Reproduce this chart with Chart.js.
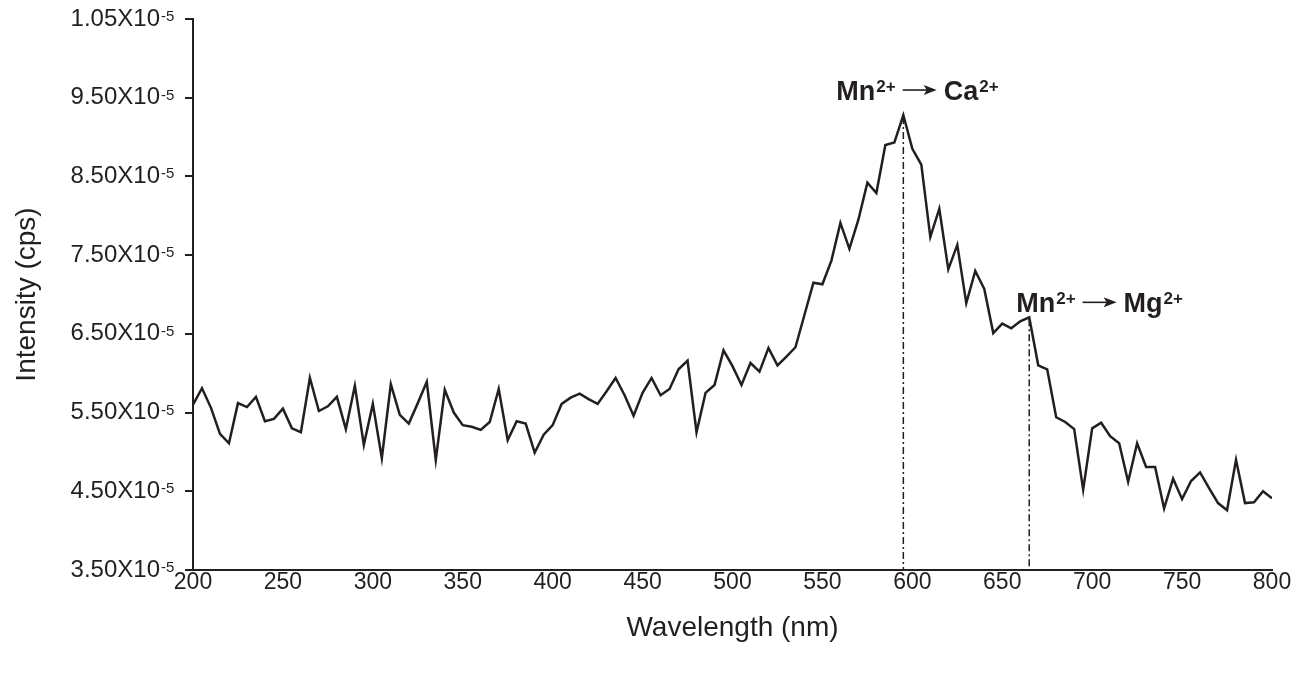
<!DOCTYPE html>
<html>
<head>
<meta charset="utf-8">
<script src="https://cdn.jsdelivr.net/npm/chart.js@4.4.1/dist/chart.umd.min.js"></script>
<style>
  body { margin: 0; background: #fff; }
</style>
</head>
<body>
<canvas id="spectrum" width="1308" height="677"></canvas>
<script>
// Emission spectrum, values

const wavelengths = [
  200, 205, 210, 215, 220, 225, 230, 235, 240, 245,
  250, 255, 260, 265, 270, 275, 280, 285, 290, 295,
  300, 305, 310, 315, 320, 325, 330, 335, 340, 345,
  350, 355, 360, 365, 370, 375, 380, 385, 390, 395,
  400, 405, 410, 415, 420, 425, 430, 435, 440, 445,
  450, 455, 460, 465, 470, 475, 480, 485, 490, 495,
  500, 505, 510, 515, 520, 525, 530, 535, 540, 545,
  550, 555, 560, 565, 570, 575, 580, 585, 590, 595,
  600, 605, 610, 615, 620, 625, 630, 635, 640, 645,
  650, 655, 660, 665, 670, 675, 680, 685, 690, 695,
  700, 705, 710, 715, 720, 725, 730, 735, 740, 745,
  750, 755, 760, 765, 770, 775, 780, 785, 790, 795,
  800
];

// intensity in units of 10^-5 cps
const intensity = [
  5.60, 5.81, 5.56, 5.23, 5.11, 5.62, 5.57, 5.70, 5.39, 5.42,
  5.55, 5.30, 5.25, 5.94, 5.52, 5.58, 5.70, 5.29, 5.84, 5.09,
  5.61, 4.92, 5.86, 5.47, 5.36, 5.62, 5.89, 4.90, 5.79, 5.50,
  5.34, 5.32, 5.28, 5.38, 5.80, 5.15, 5.39, 5.36, 4.99, 5.22,
  5.34, 5.61, 5.69, 5.74, 5.67, 5.61, 5.77, 5.94, 5.72, 5.46,
  5.75, 5.94, 5.72, 5.80, 6.05, 6.16, 5.25, 5.75, 5.85, 6.29,
  6.09, 5.85, 6.13, 6.02, 6.32, 6.10, 6.21, 6.33, 6.74, 7.15,
  7.13, 7.43, 7.91, 7.58, 7.95, 8.42, 8.29, 8.90, 8.93, 9.28,
  8.85, 8.65, 7.73, 8.09, 7.32, 7.63, 6.89, 7.30, 7.07, 6.51,
  6.63, 6.57, 6.66, 6.71, 6.10, 6.05, 5.44, 5.38, 5.29, 4.52,
  5.30, 5.37, 5.20, 5.11, 4.62, 5.11, 4.81, 4.81, 4.28, 4.66,
  4.40, 4.63, 4.74, 4.54, 4.35, 4.26, 4.90, 4.35, 4.36, 4.50,
  4.41
];

// tick text as printed on the figure (top one reads 1.05)
const yTickLabels = ["3.50", "4.50", "5.50", "6.50", "7.50", "8.50", "9.50", "1.05"];

// Mn2+ substitution sites
const peakWavelengths = [595, 665];
const peakTargets = ["Ca", "Mg"];

const FONT = '"Liberation Sans", Arial, Helvetica, sans-serif';
const INK = "#231f20";

function drawIonLabel(ctx, x, y, target) {
  const big = "bold 27px " + FONT;
  const small = "bold 17px " + FONT;
  ctx.save();
  ctx.fillStyle = INK;
  ctx.strokeStyle = INK;
  ctx.textAlign = "left";
  ctx.textBaseline = "alphabetic";

  ctx.font = big;
  ctx.fillText("Mn", x, y);
  x += ctx.measureText("Mn").width + 1;
  ctx.font = small;
  ctx.fillText("2+", x, y - 8);
  x += ctx.measureText("2+").width + 7;

  // arrow
  const ay = y - 10;
  ctx.lineWidth = 1.6;
  ctx.beginPath();
  ctx.moveTo(x, ay);
  ctx.lineTo(x + 26, ay);
  ctx.stroke();
  ctx.beginPath();
  ctx.moveTo(x + 34, ay);
  ctx.lineTo(x + 21, ay - 5);
  ctx.lineTo(x + 24, ay);
  ctx.lineTo(x + 21, ay + 5);
  ctx.closePath();
  ctx.fill();
  x += 34 + 7;

  ctx.font = big;
  ctx.fillText(target, x, y);
  x += ctx.measureText(target).width + 1;
  ctx.font = small;
  ctx.fillText("2+", x, y - 8);
  ctx.restore();
}

const annotations = {
  id: "annotations",
  afterDatasetsDraw(chart) {
    const ctx = chart.ctx;
    const xs = chart.scales.x;
    const ys = chart.scales.y;
    const bottom = chart.chartArea.bottom;

    peakWavelengths.forEach((w, k) => {
      const i = wavelengths.indexOf(w);
      const px = xs.getPixelForValue(w);
      const py = ys.getPixelForValue(intensity[i]);

      // dash-dot drop line
      ctx.save();
      ctx.strokeStyle = INK;
      ctx.lineWidth = 1.5;
      ctx.setLineDash([7, 3, 2, 3]);
      ctx.beginPath();
      ctx.moveTo(px, py + 2);
      ctx.lineTo(px, bottom);
      ctx.stroke();
      ctx.restore();

      if (k === 0) drawIonLabel(ctx, px - 67, py - 15, peakTargets[k]);
      else drawIonLabel(ctx, px - 13, py - 5, peakTargets[k]);
    });
  },
  afterDraw(chart) {
    // exponent after each y tick label
    const ctx = chart.ctx;
    const ys = chart.scales.y;
    ctx.save();
    ctx.fillStyle = INK;
    ctx.font = "15px " + FONT;
    ctx.textAlign = "left";
    ctx.textBaseline = "alphabetic";
    ys.ticks.forEach((t, i) => {
      ctx.fillText("-5", 161, ys.getPixelForTick(i) + 2);
    });
    ctx.restore();
  }
};

new Chart(document.getElementById("spectrum"), {
  type: "line",
  data: {
    datasets: [{
      label: "Intensity",
      data: wavelengths.map((w, i) => ({ x: w, y: intensity[i] })),
      borderColor: INK,
      borderWidth: 2.5,
      pointRadius: 0,
      tension: 0,
      fill: false
    }]
  },
  options: {
    responsive: false,
    animation: false,
    layout: { padding: { top: 0, right: 36, bottom: 0, left: 0 } },
    plugins: {
      legend: { display: false },
      tooltip: { enabled: false }
    },
    scales: {
      x: {
        type: "linear",
        min: 200,
        max: 800,
        ticks: {
          stepSize: 50,
          color: INK,
          padding: -1,
          maxRotation: 0,
          font: { family: FONT, size: 23 }
        },
        grid: { drawOnChartArea: false, drawTicks: false, color: INK, lineWidth: 2 },
        border: { display: true, color: INK, width: 2 },
        title: {
          display: true,
          text: "Wavelength (nm)",
          color: INK,
          font: { family: FONT, size: 28 },
          padding: { top: 0, bottom: 32 }
        },
        afterFit(scale) { scale.height = 107; }
      },
      y: {
        type: "linear",
        min: 3.5,
        max: 10.5,
        ticks: {
          stepSize: 1,
          color: INK,
          padding: 25,
          font: { family: FONT, size: 24 },
          callback: (value, index) => yTickLabels[index] + "X10"
        },
        grid: { drawOnChartArea: false, tickLength: 8, color: INK, lineWidth: 2 },
        border: { display: true, color: INK, width: 2 },
        title: {
          display: true,
          text: "Intensity (cps)",
          color: INK,
          font: { family: FONT, size: 28 },
          padding: { top: 10, bottom: 0 }
        },
        afterFit(scale) {
          scale.width = 193;
          // keep the plot top at 19px
          scale.paddingTop = 19;
          scale.paddingBottom = 0;
        }
      }
    }
  },
  plugins: [annotations]
});
</script>
</body>
</html>
